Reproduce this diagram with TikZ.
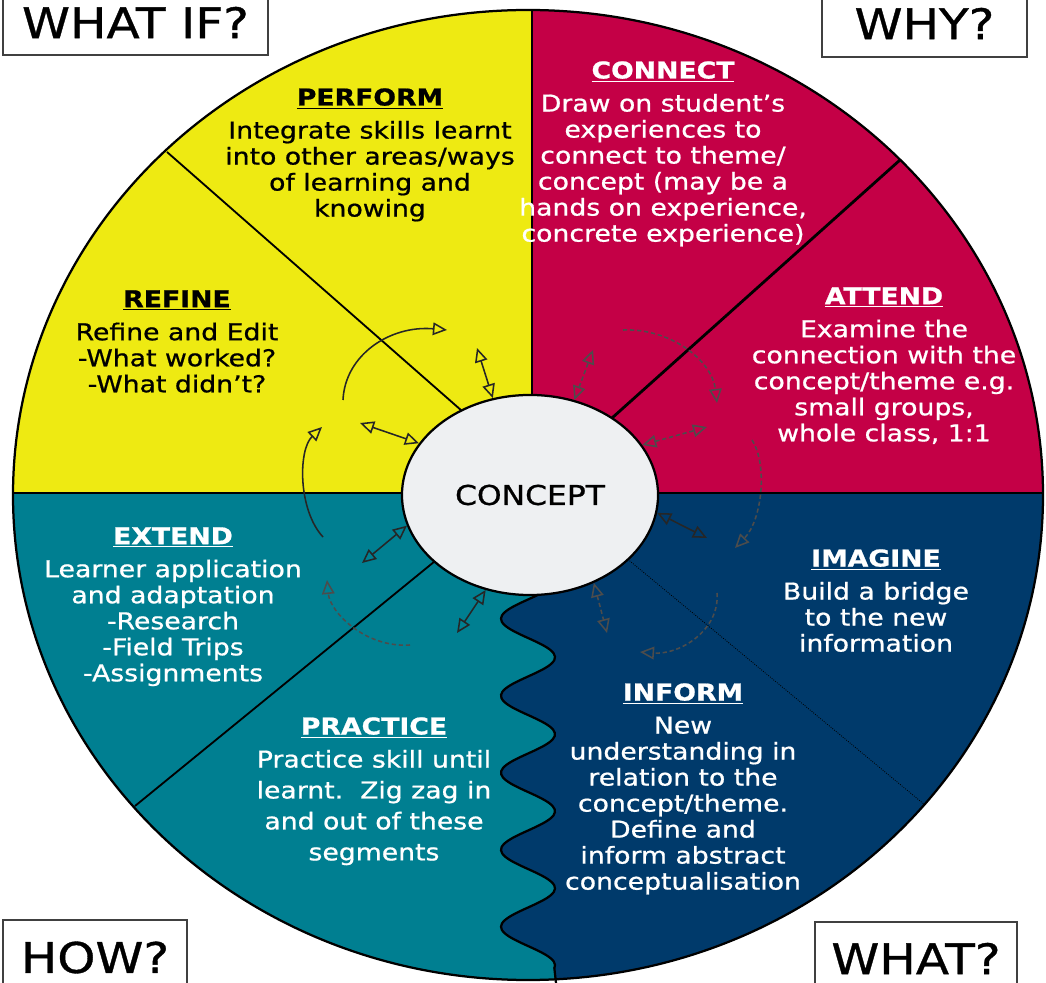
\documentclass[tikz,border=0pt]{standalone}
\usepackage{fontspec}
\setmainfont{DejaVu Sans}[FakeStretch=1.15, FakeBold=0.8]
\usetikzlibrary{arrows.meta,shapes.geometric,calc}
\definecolor{wheelyellow}{RGB}{238,234,18}
\definecolor{wheelred}{RGB}{196,0,70}
\definecolor{wheelteal}{RGB}{0,127,145}
\definecolor{wheelnavy}{RGB}{0,58,107}
\definecolor{conceptgrey}{RGB}{238,240,242}
\newcommand\stagehead[1]{\underline{\textbf{#1}}}
\tikzset{
stagetext/.style={align=center, inner sep=0pt, anchor=north, font=\fontsize{16.5}{18.5}\selectfont},
cornerbox/.style={draw=black!75, line width=1.4pt, inner sep=0pt, font=\fontsize{30}{30}\selectfont},
spoke/.style={line width=1.1pt, black!85, {Triangle[open,length=10pt,width=9pt]}-{Triangle[open,length=10pt,width=9pt]}},
turn/.style={line width=1.1pt, black!85, -{Triangle[open,length=10pt,width=9pt]}},
faint/.style={densely dashed, black!70},
}

\begin{document}
\begin{tikzpicture}[x=0.025cm, y=-0.025cm]
\useasboundingbox (0,0) rectangle (1046,983);

% the four quarters of the wheel
\begin{scope}
\clip (528,495) ellipse [x radius=515, y radius=485];
\fill[wheelnavy] (0,493) rectangle (1046,990);
\fill[wheelyellow] (0,0) rectangle (532,493);
\fill[wheelred] (532,0) rectangle (1046,493);
\fill[wheelteal] (0,493) -- (528,493) -- (528,590) -- plot[domain=590:968, samples=120, smooth] ({528+27*sin(4.675*(\x-638))}, \x) -- (556,990) -- (0,990) -- cycle;
\end{scope}

% dividing lines
\draw[line width=1.6pt] plot[domain=590:968, samples=120, smooth] ({528+27*sin(4.675*(\x-638))}, \x) -- (556,983);
\draw[line width=1.6pt] (532,10) -- (532,480);
\draw[line width=1.6pt] (13,493) -- (1043,493);
\draw[line width=1.3pt] (167,152) -- (470,418);
\draw[line width=2pt] (900,160) -- (612,418);
\draw[line width=1.3pt] (135,806) -- (440,557);
\draw[line width=0.6pt, densely dotted] (925,805) -- (625,557);
\draw[line width=1.6pt] (528,495) ellipse [x radius=515, y radius=485];

% centre
\node[ellipse, draw, line width=1.6pt, fill=conceptgrey, minimum width=6.4cm, minimum height=5cm, inner sep=0pt, font=\fontsize{19.4}{20}\selectfont] (concept) at (530,495) {CONCEPT};

% stages
\node[stagetext] (perform) at (370,88) {\stagehead{PERFORM}\\[5pt] Integrate skills learnt\\ into other areas/ways\\ of learning and\\ knowing};
\node[stagetext, white] (connect) at (663,61) {\stagehead{CONNECT}\\[5pt] Draw on student's\\ experiences to\\ connect to theme/\\ concept (may be a\\ hands on experience,\\ concrete experience)};
\node[stagetext, white] (attend) at (884,287) {\stagehead{ATTEND}\\[5pt] Examine the\\ connection with the\\ concept/theme e.g.\\ small groups,\\ whole class, 1:1};
\node[stagetext] (refine) at (177,290) {\stagehead{REFINE}\\[5pt] Refine and Edit\\ -What worked?\\ -What didn't?};
\node[stagetext, white] (extend) at (173,527) {\stagehead{EXTEND}\\[5pt] Learner application\\ and adaptation\\ -Research\\ -Field Trips\\ -Assignments};
\node[stagetext, white] (imagine) at (876,549) {\stagehead{IMAGINE}\\[5pt] Build a bridge\\ to the new\\ information};
\node[stagetext, white] (inform) at (683,683) {\stagehead{INFORM}\\[5pt] New\\ understanding in\\ relation to the\\ concept/theme.\\ Define and\\ inform abstract\\ conceptualisation};
\node[stagetext, white, font=\fontsize{16.5}{22}\selectfont] (practice) at (374,717) {\stagehead{PRACTICE}\\[1.5pt] Practice skill until\\ learnt.\ \ Zig zag in\\ and out of these\\ segments};

% questions in the corners
\node[cornerbox, minimum width=6.62cm, minimum height=1.62cm] (whatif) at (135.5,22.5) {WHAT IF?};
\node[cornerbox, minimum width=5.12cm, minimum height=1.68cm] (why) at (924.5,23.5) {WHY?};
\node[cornerbox, minimum width=4.6cm, minimum height=1.88cm] (how) at (95,957.5) {HOW?};
\node[cornerbox, minimum width=5.05cm, minimum height=1.83cm] (what) at (916,958.5) {WHAT?};

% arrows out of the centre
\coordinate (s1) at (477,348);
\coordinate (s2) at (593,350);
\coordinate (s3) at (360,423);
\coordinate (s4) at (707,427);
\coordinate (s5) at (707,538);
\coordinate (s6) at (362,563);
\coordinate (s7) at (457,633);
\coordinate (s8) at (607,633);
\draw[spoke] (concept.111) -- (s1);
\draw[spoke, faint] (concept.65) -- (s2);
\draw[spoke] (concept.155) -- (s3);
\draw[spoke, faint] (concept.24) -- (s4);
\draw[spoke] (concept.-8) -- (s5);
\draw[spoke] (concept.194) -- (s6);
\draw[spoke] (concept.245) -- (s7);
\draw[spoke, faint] (concept.306) -- (s8);

% arrows round the centre
\coordinate (t1a) at (343,400);
\coordinate (t1b) at (447,330);
\coordinate (t2a) at (623,330);
\coordinate (t2b) at (717,403);
\coordinate (t3a) at (752,440);
\coordinate (t3b) at (735,548);
\coordinate (t4a) at (717,593);
\coordinate (t4b) at (640,652);
\coordinate (t5a) at (410,645);
\coordinate (t5b) at (327,580);
\coordinate (t6a) at (323,537);
\coordinate (t6b) at (322,427);
\draw[turn] (t1a) .. controls (345,355) and (390,325) .. (t1b);
\draw[turn, faint] (t2a) .. controls (670,328) and (712,360) .. (t2b);
\draw[turn, faint] (t3a) .. controls (768,465) and (762,520) .. (t3b);
\draw[turn, faint] (t4a) .. controls (720,630) and (680,655) .. (t4b);
\draw[turn, faint] (t5a) .. controls (365,648) and (330,612) .. (t5b);
\draw[turn] (t6a) .. controls (298,510) and (298,450) .. (t6b);
\end{tikzpicture}
\end{document}
